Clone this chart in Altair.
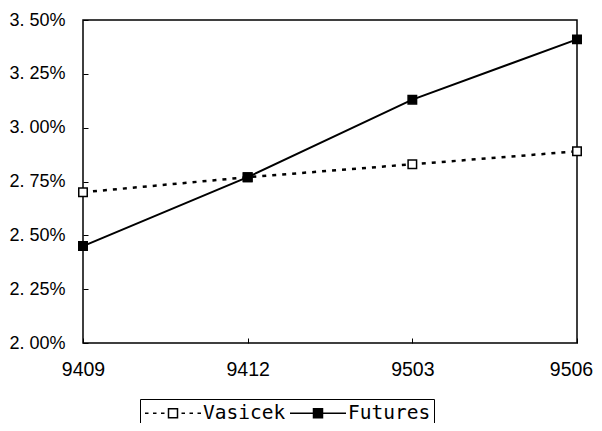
import altair as alt
import pandas as pd

months = ["9409", "9412", "9503", "9506"]
vasicek = [2.70, 2.77, 2.83, 2.89]
futures = [2.45, 2.77, 3.13, 3.41]
series_names = ["Vasicek", "Futures"]
y_ticks = [2.00, 2.25, 2.50, 2.75, 3.00, 3.25, 3.50]

rows = []
for m, v in zip(months, vasicek):
    rows.append({"month": m, "value": v, "series": "Vasicek"})
for m, f in zip(months, futures):
    rows.append({"month": m, "value": f, "series": "Futures"})
df = pd.DataFrame(rows)

# legend symbol paths (line with dashes + square)
SQ = "M-0.45,-0.45L0.45,-0.45L0.45,0.45L-0.45,0.45Z"
DASHED = ("M-2.8,0L-2.45,0M-2.0,0L-1.65,0M-1.2,0L-0.85,0"
          "M0.85,0L1.2,0M1.65,0L2.0,0M2.45,0L2.8,0" + SQ)
SOLID = "M-2.8,0L-0.45,0M0.45,0L2.8,0" + SQ

x_enc = alt.X(
    "month:O",
    sort=months,
    scale=alt.Scale(type="point", padding=0),
    axis=alt.Axis(
        title=None, labelAngle=0, domain=False, tickSize=5, offset=-5,
        tickColor="black", tickWidth=1, labelPadding=17,
        labelOffset={"expr": "datum.value == '9506' ? -6 : 0"},
        labelFont="Liberation Sans", labelFontSize=19.5, labelColor="black",
    ),
)
y_enc = alt.Y(
    "value:Q",
    scale=alt.Scale(domain=[2.0, 3.5], nice=False, zero=False),
    axis=alt.Axis(
        title=None, values=y_ticks, domain=False, grid=False, tickSize=5, offset=-5,
        tickColor="black", tickWidth=1, labelPadding=18,
        labelExpr="replace(format(datum.value, '.2f'), '.', '. ') + '%'",
        labelFont="Liberation Sans", labelFontSize=18, labelColor="black",
    ),
)

fill_scale = alt.Scale(domain=series_names, range=["white", "black"])
legend = alt.Legend(
    title=None,
    orient="none",
    legendX=57,
    legendY=379,
    direction="horizontal",
    padding=3,
    strokeColor="black",
    fillColor="white",
    symbolSize=400,
    symbolOffset=19,
    labelOffset=19,
    columnPadding=1,
    symbolStrokeColor="black",
    symbolStrokeWidth=1.5,
    labelFont="DejaVu Sans Mono",
    labelFontSize=19.5,
    labelColor="black",
)

base = alt.Chart(df)

line_vasicek = base.transform_filter("datum.series == 'Vasicek'").mark_line(
    color="black", strokeWidth=2.5, strokeDash=[4, 6]
).encode(x=x_enc, y=y_enc)

line_futures = base.transform_filter("datum.series == 'Futures'").mark_line(
    color="black", strokeWidth=2
).encode(x=x_enc, y=y_enc)

points = base.mark_point(
    shape="square", filled=True, stroke="black", strokeWidth=1.5, size=72, opacity=1
).encode(
    x=x_enc,
    y=y_enc,
    fill=alt.Fill("series:N", scale=fill_scale, legend=legend),
)

# empty layer that only carries the legend symbol shapes
legend_shapes = base.mark_point(
    filled=True, stroke="black", strokeWidth=1.5, opacity=1
).encode(
    x=x_enc,
    y=y_enc,
    fill=alt.Fill("series:N", scale=fill_scale, legend=legend),
    shape=alt.Shape(
        "series:N",
        scale=alt.Scale(domain=series_names, range=[DASHED, SOLID]),
        legend=legend,
    ),
).transform_filter("false")

chart = (
    alt.layer(line_vasicek, line_futures, points, legend_shapes)
    .properties(
        width=494,
        height=323,
        autosize=alt.AutoSizeParams(type="none"),
        padding={"left": 75, "top": 12, "right": 17, "bottom": 80},
        background="white",
    )
    .configure_view(stroke="black", strokeWidth=1.5)
)

chart.save("out.html", embed_options={"renderer": "svg", "actions": False})
